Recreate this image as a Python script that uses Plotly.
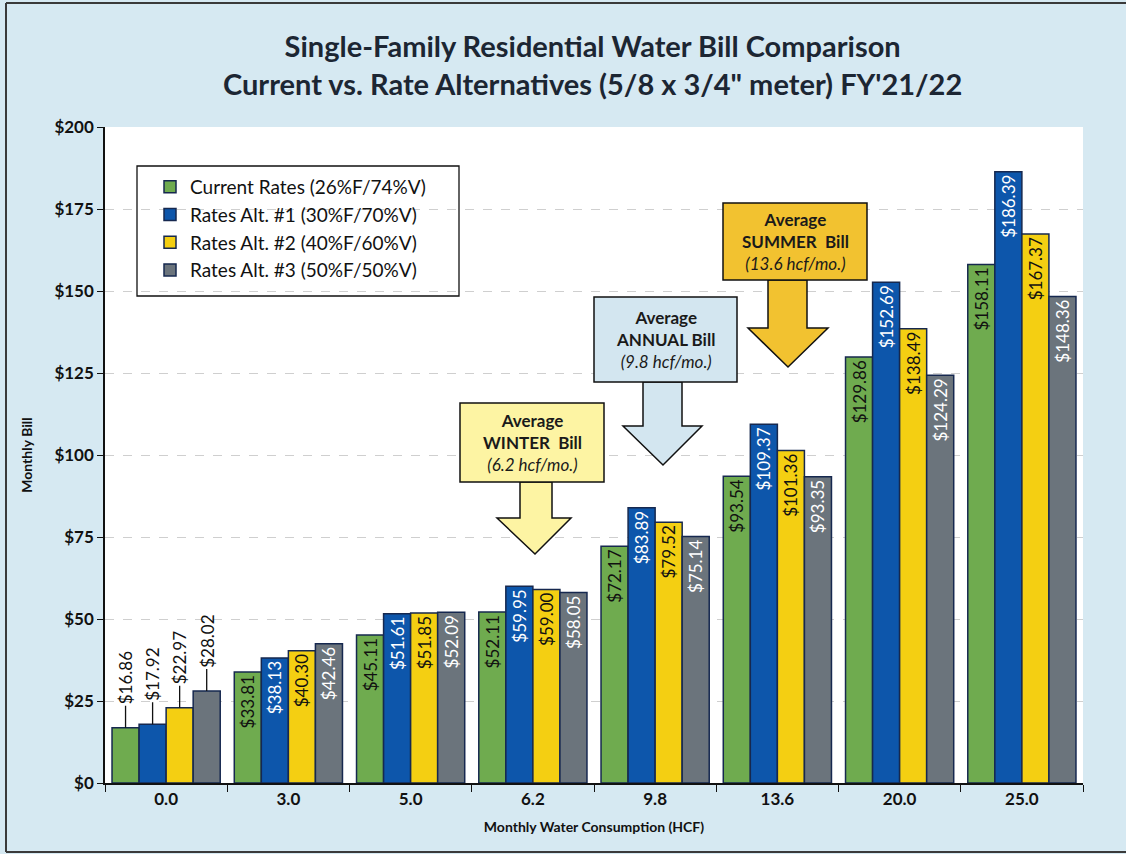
import plotly.graph_objects as go

categories = ["0.0", "3.0", "5.0", "6.2", "9.8", "13.6", "20.0", "25.0"]
current = [16.86, 33.81, 45.11, 52.11, 72.17, 93.54, 129.86, 158.11]
alt1 = [17.92, 38.13, 51.61, 59.95, 83.89, 109.37, 152.69, 186.39]
alt2 = [22.97, 40.30, 51.85, 59.00, 79.52, 101.36, 138.49, 167.37]
alt3 = [28.02, 42.46, 52.09, 58.05, 75.14, 93.35, 124.29, 148.36]
series_names = ["Current Rates (26%F/74%V)", "Rates Alt. #1 (30%F/70%V)",
                "Rates Alt. #2 (40%F/60%V)", "Rates Alt. #3 (50%F/50%V)"]
series_values = [current, alt1, alt2, alt3]
colors = ["#6fab4f", "#0d56ab", "#f4cf12", "#6b747c"]
text_colors = ["#111111", "#ffffff", "#111111", "#ffffff"]
yticks = [0, 25, 50, 75, 100, 125, 150, 175, 200]

FONT = "Lato"
BARGAP = 0.115

fig = go.Figure()
for name, vals, col, tcol in zip(series_names, series_values, colors, text_colors):
    labels = ["" if i == 0 else f"${v:.2f}" for i, v in enumerate(vals)]
    fig.add_trace(go.Bar(
        x=categories, y=vals, name=name,
        marker=dict(color=col, line=dict(color="#16284f", width=1.5)),
        text=labels, textposition="inside", insidetextanchor="end",
        textangle=-90, constraintext="none",
        textfont=dict(family=FONT, size=17, color=tcol),
        cliponaxis=False,
    ))

# leader-line labels for the first category (placed from the data)
n = len(series_values)
w = (1 - BARGAP) / n
annotations = []
for k, vals in enumerate(series_values):
    xoff = -(1 - BARGAP) / 2 + (k + 0.5) * w
    annotations.append(dict(
        x=0 + xoff, y=vals[0], xref="x", yref="y",
        text=f"${vals[0]:.2f}", textangle=-90, showarrow=True,
        arrowhead=0, arrowwidth=1.3, arrowcolor="#111111",
        ax=0, ay=-50, font=dict(family=FONT, size=17, color="#111111"),
    ))

L, R, T, B = 105, 1083, 127, 783
def px(x):
    return (x - L) / (R - L)
def py(y):
    return (B - y) / (B - T)

shapes = []
# outer frame (top, left, bottom)
for (x0, y0, x1, y1) in [(6, 3, 1126, 3), (6, 3, 6, 852), (6, 852, 1126, 852)]:
    shapes.append(dict(type="line", xref="paper", yref="paper",
                       x0=px(x0), x1=px(x1), y0=py(y0), y1=py(y1),
                       line=dict(color="#3a3a3a", width=2), layer="below"))
# legend box
shapes.append(dict(type="rect", xref="paper", yref="paper",
                   x0=px(137), x1=px(459), y0=py(296), y1=py(166),
                   fillcolor="white", line=dict(color="#111111", width=1.3), layer="below"))

callouts = [
    (460, 604, 403, 482, 520, 552, 518, 497, 571, 535, 554, "#fdf4a3",
     "<b>Average</b><br><b>WINTER  Bill</b><br><i>(6.2 hcf/mo.)</i>"),
    (594, 737, 297, 382, 643, 682, 426, 623, 702, 663, 465, "#d3e6f0",
     "<b>Average</b><br><b>ANNUAL Bill</b><br><i>(9.8 hcf/mo.)</i>"),
    (723, 867, 203, 280, 768, 807, 328, 748, 828, 788, 367, "#f2c230",
     "<b>Average</b><br><b>SUMMER  Bill</b><br><i>(13.6 hcf/mo.)</i>"),
]
for (bx0, bx1, by0, by1, sx0, sx1, hy, hx0, hx1, tx, ty, fill, txt) in callouts:
    path = (f"M {px(sx0)},{py(by1)} L {px(sx0)},{py(hy)} L {px(hx0)},{py(hy)} "
            f"L {px(tx)},{py(ty)} L {px(hx1)},{py(hy)} L {px(sx1)},{py(hy)} "
            f"L {px(sx1)},{py(by1)} Z")
    shapes.append(dict(type="path", xref="paper", yref="paper", path=path,
                       fillcolor=fill, line=dict(color="#111111", width=1.5)))
    shapes.append(dict(type="rect", xref="paper", yref="paper",
                       x0=px(bx0), x1=px(bx1), y0=py(by1), y1=py(by0),
                       fillcolor=fill, line=dict(color="#111111", width=1.5)))
    annotations.append(dict(
        x=px((bx0 + bx1) / 2), y=py((by0 + by1) / 2), xref="paper", yref="paper",
        xanchor="center", yanchor="middle",
        text=txt, showarrow=False, align="center",
        font=dict(family=FONT, size=17, color="#1a1a1a"),
    ))

# title
annotations.append(dict(
    x=px(592), y=py(64), xref="paper", yref="paper", showarrow=False,
    xanchor="center", yanchor="middle",
    text="<b>Single-Family Residential Water Bill Comparison</b><br>"
         "<b>Current vs. Rate Alternatives (5/8 x 3/4\" meter) FY'21/22</b>",
    font=dict(family=FONT, size=29, color="#1c2633"), align="center",
))

fig.update_layout(
    width=1126, height=854,
    margin=dict(l=L, r=1126 - R, t=T, b=854 - B),
    paper_bgcolor="#d6e9f2", plot_bgcolor="white",
    barmode="group", bargap=BARGAP, bargroupgap=0,
    font=dict(family=FONT, color="#111111"),
    showlegend=True,
    legend=dict(x=px(150), y=py(168), xanchor="left", yanchor="top",
                bgcolor="rgba(0,0,0,0)", borderwidth=0,
                font=dict(family=FONT, size=19, color="#111111")),
    shapes=shapes, annotations=annotations,
)
fig.update_xaxes(
    type="category", showline=True, linecolor="#111111", linewidth=1.5,
    ticks="outside", tickson="boundaries", ticklen=7, tickcolor="#111111",
    tickfont=dict(family=FONT, size=17, color="#111111"),
    tickprefix="<b>", ticksuffix="</b>",
    title=dict(text="<b>Monthly Water Consumption (HCF)</b>",
               font=dict(family=FONT, size=14, color="#111111"), standoff=14),
    showgrid=False,
)
fig.update_yaxes(
    range=[0, 200], tickvals=yticks,
    ticktext=[f"<b>${v}</b>" for v in yticks],
    showline=True, linecolor="#111111", linewidth=1.5,
    ticks="outside", ticklen=6, tickcolor="#111111",
    tickfont=dict(family=FONT, size=17, color="#111111"),
    showgrid=True, gridcolor="#cfcfcf", griddash="dash", gridwidth=1,
    title=dict(text="<b>Monthly Bill</b>",
               font=dict(family=FONT, size=14, color="#111111"), standoff=18),
    zeroline=False,
)

fig.write_html("out.html", config={"displayModeBar": False},
               post_script="document.body.style.margin='0px';document.body.style.overflow='hidden';")
